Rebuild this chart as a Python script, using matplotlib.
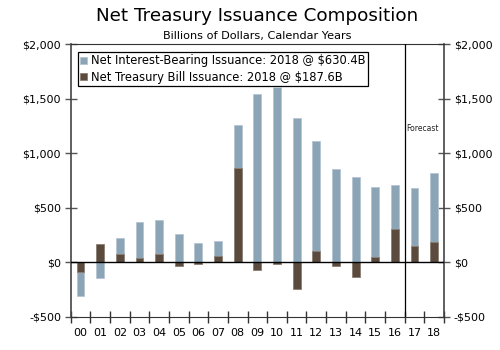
import numpy as np
import matplotlib
matplotlib.use('Agg')
import matplotlib.pyplot as plt
from matplotlib.ticker import FuncFormatter

years = ['00', '01', '02', '03', '04', '05', '06', '07', '08', '09',
         '10', '11', '12', '13', '14', '15', '16', '17', '18']
bills = [-86, 165, 80, 37, 73, -37, -18, 58, 862, -70,
         -18, -245, 104, -34, -132, 52, 303, 150, 187.6]
interest_bearing = [-226, -147, 140, 330, 313, 263, 177, 135, 394, 1545,
                    1606, 1322, 1010, 854, 780, 636, 410, 535, 630.4]

BLUE = '#8ba5b6'
BROWN = '#5a4b3e'

x = np.arange(len(years))
bills = np.array(bills, dtype=float)
ib = np.array(interest_bearing, dtype=float)
# stack only when both have the same sign
ib_bottom = np.where(np.sign(bills) == np.sign(ib), bills, 0)

fig = plt.figure(figsize=(5, 3.5), dpi=100)
ax = fig.add_axes([0.1414, 0.095, 0.7466, 0.778])

w = 0.4
ax.bar(x, ib, w, bottom=ib_bottom, color=BLUE, edgecolor='#b4c6d2', linewidth=0.6,
       label='Net Interest-Bearing Issuance: 2018 @ $630.4B', zorder=2)
ax.bar(x, bills, w, color=BROWN, edgecolor='#8a7e72', linewidth=0.6,
       label='Net Treasury Bill Issuance: 2018 @ $187.6B', zorder=2)

ax.axhline(0, color='black', lw=1.0, zorder=3)
ax.axvline(16.5, color='black', lw=0.9, zorder=3)
ax.text(16.6, 1230, 'Forecast', fontsize=5.5, color='#222222', va='center', ha='left')

ax.set_xlim(-0.5, len(years) - 0.5)
ax.set_ylim(-500, 2000)
ax.set_yticks(np.arange(-500, 2001, 500))
ax.yaxis.set_major_formatter(FuncFormatter(lambda v, p: f'-${abs(v):,.0f}' if v < 0 else f'${v:,.0f}'))
ax.tick_params(axis='y', direction='inout', length=8, width=1, color='#555555',
               labelsize=8, left=True, right=True, labelleft=True, labelright=True, pad=3)

ax.set_xticks(x)
ax.set_xticklabels(years)
ax.set_xticks(np.arange(-0.5, len(years), 1), minor=True)
ax.tick_params(axis='x', which='major', length=0, labelsize=8, pad=8)
ax.tick_params(axis='x', which='minor', direction='inout', length=8, width=1, color='#333333')

for s in ['left', 'right']:
    ax.spines[s].set_color('#444444')
    ax.spines[s].set_linewidth(1.2)
ax.spines['top'].set_color('#333333')
ax.spines['bottom'].set_color('#333333')

leg = ax.legend(loc='upper left', bbox_to_anchor=(0.01, 0.985), fontsize=8.3,
                handlelength=0.6, handleheight=0.6, handletextpad=0.3,
                borderpad=0.2, labelspacing=0.3, fancybox=False, framealpha=1,
                edgecolor='black', borderaxespad=0.3)
leg.get_frame().set_linewidth(0.9)
leg.set_zorder(1)

fig.text(0.514, 0.953, 'Net Treasury Issuance Composition', fontsize=13.2, ha='center', va='center')
fig.text(0.514, 0.898, 'Billions of Dollars, Calendar Years', fontsize=8.1, ha='center', va='center')

fig.savefig('out.png', dpi=100)
